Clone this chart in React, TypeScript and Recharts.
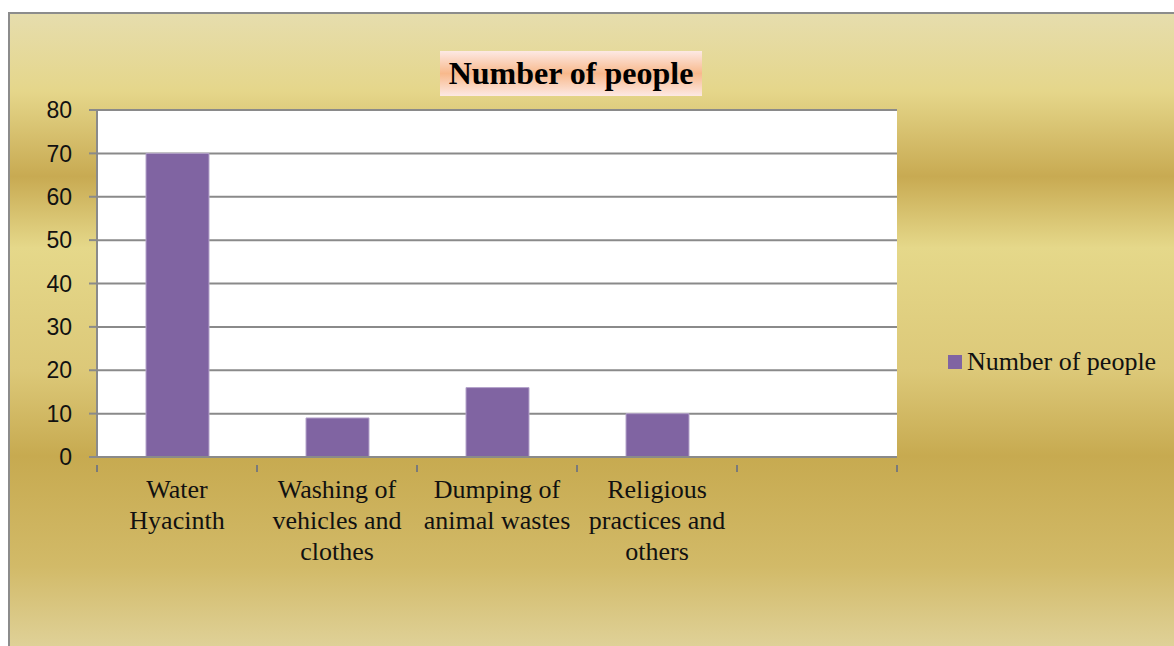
import React from "react";
import { BarChart, Bar, XAxis, YAxis, CartesianGrid } from "recharts";

const categories = [
  "Water\nHyacinth",
  "Washing of\nvehicles and\nclothes",
  "Dumping of\nanimal wastes",
  "Religious\npractices and\nothers",
  "",
];
const values: (number | null)[] = [70, 9, 16, 10, null];
const yTicks = [0, 10, 20, 30, 40, 50, 60, 70, 80];
const seriesName = "Number of people";
const titleText = "Number of people";

const data = categories.map((c, i) => ({ name: c, value: values[i] }));

const serif = "'Liberation Serif', 'Times New Roman', serif";
const sans = "'Liberation Sans', Arial, sans-serif";

const XTick = (props: any) => {
  const { x, y, payload, index, visibleTicksCount } = props;
  const half = 80;
  const lines = String(payload.value).split("\n");
  return (
    <g>
      <line x1={x - half} x2={x - half} y1={y} y2={y + 7} stroke="#7a7a7a" strokeWidth={2} />
      {index === visibleTicksCount - 1 && (
        <line x1={x + half} x2={x + half} y1={y} y2={y + 7} stroke="#7a7a7a" strokeWidth={2} />
      )}
      <text x={x} y={y + 33} textAnchor="middle" fontFamily={serif} fontSize={26} fill="#111">
        {lines.map((l, i) => (
          <tspan key={i} x={x} dy={i === 0 ? 0 : 31}>
            {l}
          </tspan>
        ))}
      </text>
    </g>
  );
};

export default function App() {
  return (
    <div style={{ position: "fixed", left: 0, top: 0, width: 1174, height: 646, overflow: "hidden", background: "#fff" }}>
      <div
        style={{
          position: "absolute",
          left: 8,
          top: 12,
          width: 1180,
          height: 650,
          borderLeft: "2px solid #8c8c8c",
          borderTop: "2px solid #8c8c8c",
          background:
            "linear-gradient(to bottom, #E6DDAD 0%, #E5D68A 12%, #C8AA52 25%, #E5D88A 36%, #DCC878 55%, #C7AA50 68%, #D2BA68 85%, #E2D6A2 100%)",
        }}
      />
      <div style={{ position: "absolute", left: 0, top: 0 }}>
        <BarChart
          width={1174}
          height={646}
          data={data}
          margin={{ top: 110, right: 277, bottom: 129, left: 37 }}
          barSize={63}
        >
          <CartesianGrid
            vertical={false}
            stroke="#8a8a8a"
            strokeWidth={2}
            fill="#ffffff"
            fillOpacity={1}
          />
          <XAxis
            dataKey="name"
            interval={0}
            height={60}
            axisLine={{ stroke: "#8a8a8a", strokeWidth: 2 }}
            tickLine={false}
            tick={<XTick />}
          />
          <YAxis
            width={60}
            domain={[0, 80]}
            ticks={yTicks}
            interval={0}
            axisLine={{ stroke: "#8a8a8a", strokeWidth: 2 }}
            tickLine={{ stroke: "#8a8a8a", strokeWidth: 2 }}
            tickSize={8}
            tickMargin={17}
            tick={{ fill: "#111", fontFamily: sans, fontSize: 23 }}
          />
          <Bar
            dataKey="value"
            name={seriesName}
            fill="#8064A2"
            stroke="#B4A3CA"
            strokeWidth={1}
            isAnimationActive={false}
          />
        </BarChart>
      </div>
      <div
        style={{
          position: "absolute",
          left: 440,
          top: 51,
          width: 262,
          height: 45,
          background: "linear-gradient(to bottom, #FDE9E4 0%, #F8B98C 50%, #FDE9E4 100%)",
          display: "flex",
          alignItems: "center",
          justifyContent: "center",
          fontFamily: serif,
          fontWeight: "bold",
          fontSize: 32,
          color: "#000",
          whiteSpace: "nowrap",
        }}
      >
        {titleText}
      </div>
      <div
        style={{
          position: "absolute",
          left: 948,
          top: 346,
          height: 32,
          display: "flex",
          alignItems: "center",
          fontFamily: serif,
          fontSize: 26,
          color: "#111",
          whiteSpace: "nowrap",
        }}
      >
        <span style={{ display: "inline-block", width: 14, height: 14, background: "#8064A2", marginRight: 5 }} />
        <span>{seriesName}</span>
      </div>
    </div>
  );
}
